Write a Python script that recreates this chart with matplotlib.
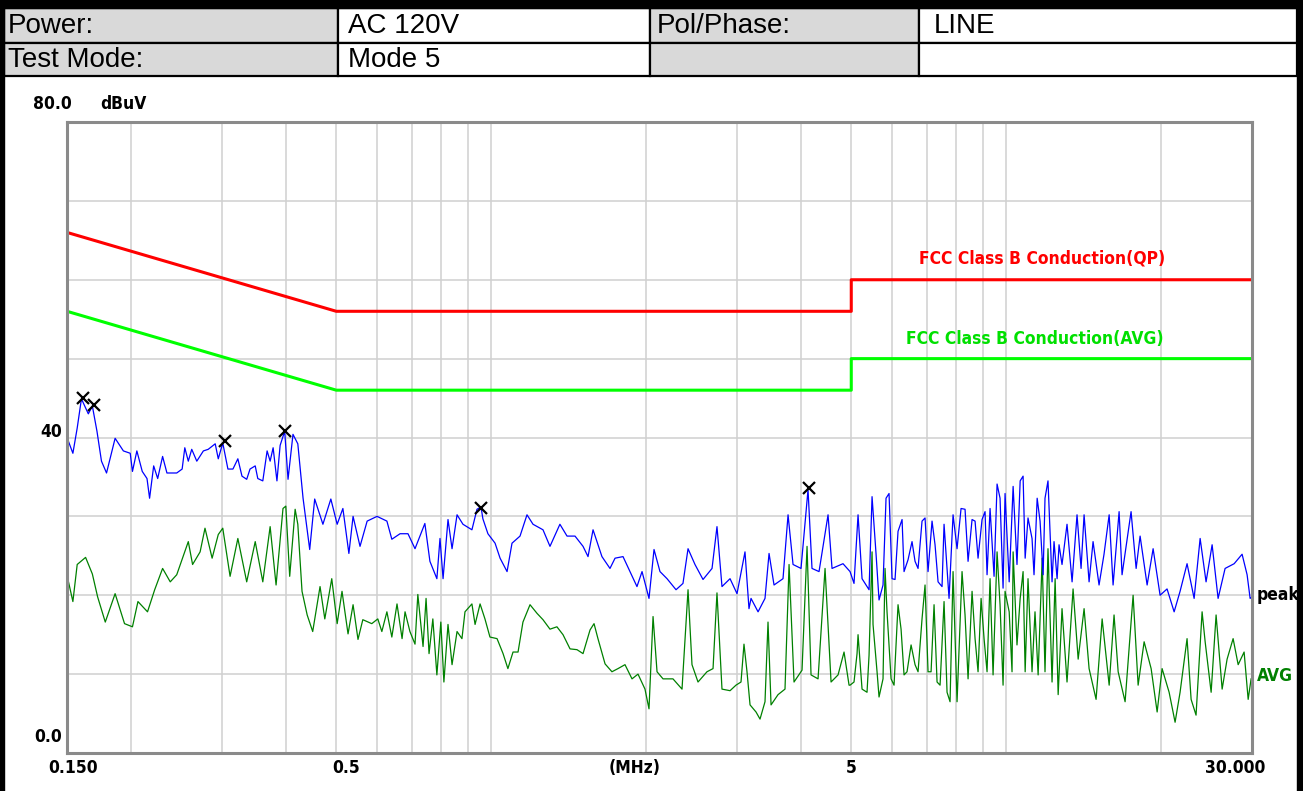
import matplotlib
matplotlib.use('Agg')
import matplotlib.pyplot as plt
from matplotlib.patches import Rectangle
from matplotlib.ticker import NullLocator

W, H = 1303, 791

# header table
table_rows = [['Power:', 'AC 120V', 'Pol/Phase:', 'LINE'],
              ['Test Mode:', 'Mode 5', '', '']]

# limit lines (MHz, dBuV)
limit_freq = [0.15, 0.5, 5, 5, 30]
qp_limit = [66, 56, 56, 60, 60]
avg_limit = [56, 46, 46, 50, 50]

# peak trace, 0.15 - 4.9 MHz
peak_freq_a = [0.151, 0.154, 0.157, 0.160, 0.165, 0.168, 0.1715, 0.175, 0.179, 0.186,
               0.193, 0.199, 0.201, 0.205, 0.210, 0.2145, 0.217, 0.221, 0.225, 0.230,
               0.2345, 0.245, 0.251, 0.254, 0.258, 0.262, 0.268, 0.276, 0.282, 0.291,
               0.295, 0.301, 0.308, 0.315, 0.322, 0.328, 0.335, 0.340, 0.348, 0.352,
               0.360, 0.367, 0.372, 0.377, 0.3835, 0.389, 0.397, 0.403, 0.412, 0.421,
               0.431, 0.444, 0.454, 0.471, 0.488, 0.502, 0.515, 0.529, 0.539, 0.556,
               0.574, 0.600, 0.627, 0.641, 0.665, 0.689, 0.711, 0.743, 0.760, 0.784,
               0.795, 0.806, 0.824, 0.839, 0.858, 0.881, 0.917, 0.938, 0.955, 0.963,
               0.985, 1.017, 1.040, 1.073, 1.097, 1.137, 1.173, 1.205, 1.260, 1.300,
               1.359, 1.403, 1.454, 1.507, 1.541, 1.576, 1.640, 1.700, 1.739, 1.802,
               1.859, 1.918, 1.962, 2.024, 2.070, 2.126, 2.194, 2.284, 2.356, 2.410,
               2.486, 2.577, 2.683, 2.743, 2.805, 2.908, 3.000, 3.109, 3.165, 3.194,
               3.296, 3.400, 3.462, 3.540, 3.685, 3.769, 3.854, 3.994, 4.121, 4.195,
               4.329, 4.507, 4.588, 4.819]
peak_level_a = [39.5, 38.0, 41.2, 44.9, 43.0, 44.0, 40.8, 37.0, 35.5, 39.9,
                38.3, 38.0, 35.7, 38.3, 35.7, 34.8, 32.3, 36.4, 34.8, 37.6,
                35.5, 35.5, 36.0, 38.7, 37.0, 38.5, 37.0, 38.3, 38.5, 39.2,
                37.3, 39.3, 36.0, 36.0, 37.3, 35.1, 34.7, 36.0, 36.4, 34.8,
                34.5, 38.3, 37.0, 38.7, 34.5, 39.0, 40.8, 34.7, 40.4, 39.2,
                32.3, 25.8, 32.2, 29.0, 32.2, 29.0, 31.0, 25.3, 30.0, 26.2,
                29.4, 30.0, 29.4, 27.1, 27.8, 27.8, 25.9, 29.1, 24.3, 22.1,
                27.2, 22.1, 29.6, 25.9, 30.2, 29.0, 28.3, 30.9, 31.2, 29.7,
                27.8, 26.6, 24.7, 23.0, 26.6, 27.5, 30.2, 29.0, 28.3, 26.2,
                29.0, 27.5, 27.5, 26.2, 24.9, 28.3, 24.9, 23.4, 24.7, 24.9,
                23.0, 21.1, 23.0, 19.6, 25.8, 23.0, 22.1, 20.7, 21.5, 25.9,
                23.9, 22.0, 23.4, 28.7, 21.1, 22.1, 20.2, 25.5, 18.3, 19.6,
                17.9, 19.6, 25.3, 21.3, 22.1, 30.2, 23.9, 23.4, 33.4, 23.4,
                23.0, 30.2, 23.4, 24.0]

# peak trace, 5 - 12.7 MHz
peak_freq_b = [4.973, 5.062, 5.154, 5.247, 5.365, 5.414, 5.487, 5.585, 5.661, 5.763,
               5.841, 5.920, 6.000, 6.081, 6.163, 6.275, 6.331, 6.445, 6.561, 6.650,
               6.740, 6.861, 6.954, 7.048, 7.175, 7.272, 7.371, 7.503, 7.571, 7.742,
               7.882, 8.024, 8.169, 8.316, 8.429, 8.581, 8.697, 8.814, 8.973, 9.094,
               9.176, 9.300, 9.468, 9.596, 9.725, 9.857, 9.945, 10.13, 10.26, 10.31,
               10.49, 10.64, 10.78, 10.88, 11.02, 11.22, 11.32, 11.48, 11.63, 11.79,
               11.89, 12.05, 12.27, 12.38, 12.55, 12.66]
peak_level_b = [23.0, 21.5, 30.2, 22.1, 21.1, 20.7, 32.5, 25.3, 19.4, 21.3,
                32.3, 32.9, 22.1, 22.0, 28.1, 29.6, 23.0, 24.5, 26.8, 24.3,
                23.4, 29.4, 29.8, 23.0, 29.4, 26.4, 21.7, 21.1, 29.0, 19.6,
                30.2, 25.9, 31.0, 30.9, 24.3, 29.6, 29.4, 24.7, 29.6, 30.6,
                22.6, 31.0, 22.4, 34.1, 32.3, 20.9, 32.9, 21.7, 30.6, 33.8,
                23.9, 34.5, 35.1, 24.7, 29.8, 27.2, 22.6, 32.3, 29.4, 22.6,
                32.3, 34.5, 21.7, 26.8, 22.1, 26.4]

# peak trace, 12.8 - 30 MHz
peak_freq_c = [12.83, 13.12, 13.42, 13.72, 13.97, 14.16, 14.48, 14.74, 15.14, 15.48,
               15.84, 16.12, 16.56, 16.78, 17.47, 17.87, 18.19, 18.77, 19.28, 19.89,
               20.52, 21.18, 21.75, 22.44, 23.16, 23.79, 24.43, 25.10, 25.78, 26.60,
               27.70, 28.70, 29.35, 29.75, 30.0]
peak_level_c = [23.9, 29.0, 21.7, 30.2, 23.4, 30.2, 21.7, 26.8, 21.3, 25.2,
                30.2, 21.3, 30.6, 22.6, 30.6, 23.4, 27.5, 21.3, 25.9, 20.0,
                20.8, 17.9, 20.5, 24.0, 19.6, 27.2, 21.7, 26.4, 19.6, 23.4,
                24.0, 25.2, 22.6, 19.6, 19.8]

# average trace, 0.15 - 4.96 MHz
avg_freq_a = [0.151, 0.154, 0.157, 0.163, 0.168, 0.172, 0.178, 0.186, 0.194, 0.201,
              0.206, 0.215, 0.222, 0.230, 0.238, 0.245, 0.252, 0.258, 0.263, 0.272,
              0.278, 0.287, 0.295, 0.301, 0.311, 0.322, 0.335, 0.348, 0.360, 0.372,
              0.382, 0.394, 0.399, 0.406, 0.416, 0.421, 0.429, 0.439, 0.450, 0.465,
              0.475, 0.490, 0.502, 0.513, 0.527, 0.539, 0.551, 0.563, 0.586, 0.602,
              0.613, 0.627, 0.641, 0.656, 0.671, 0.680, 0.695, 0.711, 0.720, 0.737,
              0.747, 0.757, 0.770, 0.784, 0.798, 0.809, 0.824, 0.839, 0.858, 0.877,
              0.889, 0.917, 0.930, 0.951, 0.972, 0.994, 1.026, 1.054, 1.077, 1.102,
              1.127, 1.152, 1.189, 1.227, 1.260, 1.300, 1.341, 1.378, 1.422, 1.467,
              1.507, 1.555, 1.583, 1.611, 1.663, 1.715, 1.762, 1.818, 1.876, 1.927,
              1.988, 2.024, 2.061, 2.098, 2.155, 2.253, 2.346, 2.410, 2.453, 2.520,
              2.623, 2.695, 2.743, 2.805, 2.908, 2.986, 3.054, 3.095, 3.137, 3.180,
              3.266, 3.325, 3.400, 3.446, 3.493, 3.604, 3.718, 3.786, 3.871, 4.012,
              4.103, 4.177, 4.310, 4.447, 4.568, 4.713, 4.841, 4.951]
avg_level_a = [21.7, 19.2, 23.9, 24.8, 22.7, 19.8, 16.6, 20.2, 16.4, 16.0,
               19.2, 17.9, 20.7, 23.4, 21.7, 22.6, 24.9, 26.8, 23.9, 25.5,
               28.5, 24.7, 27.7, 28.5, 22.4, 27.2, 21.7, 26.8, 21.7, 28.7,
               21.3, 31.0, 31.3, 22.4, 30.9, 29.0, 20.5, 17.5, 15.4, 21.1,
               17.0, 22.1, 16.4, 20.5, 15.1, 18.8, 14.4, 16.9, 16.4, 17.0,
               15.4, 17.9, 14.7, 18.9, 14.5, 17.9, 15.4, 13.8, 20.1, 13.5,
               19.6, 12.6, 17.0, 9.9, 16.6, 9.0, 16.3, 11.2, 15.4, 14.5,
               17.9, 18.9, 16.3, 18.9, 17.0, 14.7, 14.5, 12.6, 10.7, 12.8,
               12.8, 16.6, 18.8, 17.7, 16.9, 15.7, 16.0, 15.0, 13.2, 13.1,
               12.6, 15.6, 16.4, 14.5, 11.3, 10.3, 10.7, 11.2, 9.4, 10.0,
               8.1, 5.6, 17.3, 10.3, 9.4, 9.4, 8.1, 20.7, 11.2, 9.0,
               10.3, 10.7, 20.3, 8.1, 7.9, 8.6, 9.0, 13.8, 10.3, 6.1,
               5.2, 4.3, 6.5, 16.6, 6.1, 7.4, 8.1, 23.9, 9.0, 10.5,
               26.2, 9.9, 9.4, 23.4, 9.0, 9.9, 12.8, 8.6]

# average trace, 5 - 12.6 MHz
avg_freq_b = [4.973, 5.062, 5.131, 5.154, 5.247, 5.365, 5.414, 5.487, 5.511, 5.611,
              5.661, 5.763, 5.815, 5.867, 5.974, 6.054, 6.163, 6.247, 6.331, 6.416,
              6.533, 6.650, 6.740, 6.861, 6.954, 7.048, 7.144, 7.240, 7.338, 7.437,
              7.571, 7.673, 7.777, 7.882, 8.024, 8.205, 8.316, 8.429, 8.581, 8.697,
              8.814, 8.934, 9.054, 9.176, 9.300, 9.426, 9.596, 9.725, 9.857, 9.945,
              10.13, 10.26, 10.31, 10.49, 10.64, 10.78, 10.88, 11.02, 11.22, 11.37,
              11.53, 11.74, 11.89, 12.05, 12.27, 12.44, 12.61]
avg_level_b = [8.6, 9.0, 12.6, 15.0, 8.1, 7.7, 12.4, 25.5, 16.3, 10.3,
               7.1, 9.4, 23.4, 17.9, 9.4, 8.6, 18.8, 15.7, 9.9, 10.3,
               13.7, 11.2, 10.3, 17.0, 21.3, 10.3, 10.3, 18.8, 9.0, 8.6,
               19.2, 7.7, 6.5, 23.0, 6.5, 23.0, 17.5, 9.4, 20.5, 14.5,
               10.3, 19.6, 14.5, 10.3, 22.1, 9.9, 25.5, 18.8, 8.6, 20.5,
               17.9, 10.3, 25.5, 13.7, 19.6, 23.0, 10.3, 22.1, 10.3, 17.9,
               9.9, 24.7, 10.3, 25.9, 9.0, 22.1, 7.4]

# average trace, 12.8 - 30 MHz
avg_freq_c = [12.83, 13.12, 13.48, 13.79, 14.16, 14.48, 14.94, 15.35, 15.84, 16.19,
              16.49, 17.01, 17.63, 18.03, 18.52, 19.11, 19.63, 20.07, 20.71, 21.27,
              21.75, 22.44, 22.85, 23.36, 24.00, 24.33, 24.99, 25.55, 26.25, 26.84,
              27.57, 28.20, 28.96, 29.49, 29.88]
avg_level_c = [18.3, 9.0, 20.8, 11.9, 18.3, 10.7, 6.8, 17.0, 8.6, 17.5,
               10.3, 6.5, 20.0, 8.6, 14.1, 10.7, 5.2, 10.7, 7.7, 3.9,
               7.7, 14.5, 6.8, 4.8, 17.9, 14.1, 7.7, 17.5, 8.1, 11.9,
               14.5, 11.2, 12.8, 6.8, 9.4]

peak_freq = peak_freq_a + peak_freq_b + peak_freq_c
peak_level = peak_level_a + peak_level_b + peak_level_c
avg_freq = avg_freq_a + avg_freq_b + avg_freq_c
avg_level = avg_level_a + avg_level_b + avg_level_c

# marked peaks
mark_freq = [0.161, 0.169, 0.304, 0.397, 0.955, 4.13]
mark_level = [45.0, 44.1, 39.5, 40.8, 31.0, 33.6]

grid_freqs = [0.2, 0.3, 0.4, 0.5, 0.6, 0.7, 0.8, 0.9, 1, 2, 3, 4, 5, 6, 7, 8, 9, 10, 20]

chart_font = dict(family='DejaVu Sans', fontstretch='condensed', fontweight='bold', fontsize=12.5)

fig = plt.figure(figsize=(W / 100, H / 100), dpi=100, facecolor='white')

# overlay in pixel units for the header and the outer text
ov = fig.add_axes([0, 0, 1, 1])
ov.set_xlim(0, W)
ov.set_ylim(H, 0)
ov.axis('off')

col_edges = [4, 338, 650, 919, 1297]
row_edges = [8, 42.5, 76]
text_pad = [4, 10, 7, 15]
for r, row in enumerate(table_rows):
    for c, txt in enumerate(row):
        x0, x1 = col_edges[c], col_edges[c + 1]
        y0, y1 = row_edges[r], row_edges[r + 1]
        fc = '#d9d9d9' if c % 2 == 0 else 'white'
        ov.add_patch(Rectangle((x0, y0), x1 - x0, y1 - y0, facecolor=fc,
                               edgecolor='black', lw=1.6))
        ov.text(x0 + text_pad[c], (y0 + y1) / 2 + 1, txt, family='Liberation Sans',
                fontsize=20, ha='left', va='center')

# black frame of the page
ov.add_patch(Rectangle((0, 0), 4, H, color='black'))
ov.add_patch(Rectangle((1297, 0), 6, H, color='black'))
ov.add_patch(Rectangle((0, 0), W, 8, color='black'))

ov.text(52, 104, '80.0', ha='center', va='center', **chart_font)
ov.text(123, 104, 'dBuV', ha='center', va='center', **chart_font)
ov.text(51, 432, '40', ha='center', va='center', **chart_font)
ov.text(48, 737, '0.0', ha='center', va='center', **chart_font)
for xp, lab in [(73, '0.150'), (346, '0.5'), (635, '(MHz)'), (851, '5'), (1235, '30.000')]:
    ov.text(xp, 768, lab, ha='center', va='center', **chart_font)

# main plot
ax = fig.add_axes([67 / W, 1 - 753 / H, (1252 - 67) / W, (753 - 122) / H])
ax.set_facecolor('white')
ax.set_xscale('log')
ax.set_xlim(0.15, 30)
ax.set_ylim(0, 80)
ax.set_xticks(grid_freqs)
ax.xaxis.set_minor_locator(NullLocator())
ax.set_yticks(range(0, 81, 10))
ax.tick_params(length=0, labelbottom=False, labelleft=False)
ax.grid(True, color='#d0d0d0', lw=1.1)
ax.set_axisbelow(True)
for s in ax.spines.values():
    s.set_color('#8a8a8a')
    s.set_linewidth(2.2)

ax.plot(limit_freq, qp_limit, color='#ff0000', lw=2.2)
ax.plot(limit_freq, avg_limit, color='#00ff00', lw=2.2)
ax.plot(avg_freq, avg_level, color='#008000', lw=0.9)
ax.plot(peak_freq, peak_level, color='#0000ff', lw=0.9)
ax.plot(mark_freq, mark_level, ls='none', marker='x', color='black', ms=8, mew=1.6)

yt = ax.get_yaxis_transform()
ax.text(0.9266, 62.7, 'FCC Class B Conduction(QP)', color='#ff0000', transform=yt,
        ha='right', va='center', **chart_font)
ax.text(0.925, 52.5, 'FCC Class B Conduction(AVG)', color='#00e000', transform=yt,
        ha='right', va='center', **chart_font)
ax.text(1.004, 20.0, 'peak', color='black', transform=yt, ha='left', va='center',
        clip_on=False, **chart_font)
ax.text(1.004, 9.8, 'AVG', color='#008000', transform=yt, ha='left', va='center',
        clip_on=False, **chart_font)

fig.savefig('out.png', dpi=100, facecolor='white')
